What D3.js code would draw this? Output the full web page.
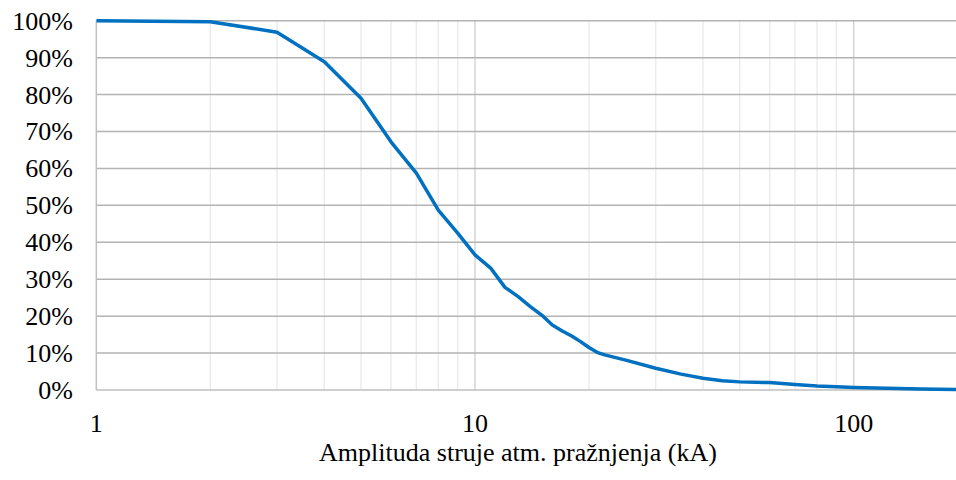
<!DOCTYPE html>
<html>
<head>
<meta charset="utf-8">
<script src="https://cdn.jsdelivr.net/npm/d3@7"></script>
<style>
  body { margin: 0; background: #fff; }
  svg { display: block; font-family: "Liberation Serif", "Times New Roman", serif; }
</style>
</head>
<body>
<div id="chart"></div>
<script>
// lightning current amplitude (kA) vs probability of exceeding
var amplitudes = [1, 2, 3, 4, 5, 6, 7, 8, 9, 10, 11, 12, 13, 14, 15, 16, 17, 18, 19, 20,
                  21, 22, 25, 30, 35, 40, 45, 50, 60, 70, 80, 90, 100, 150, 200];
var probability = [1.000, 0.997, 0.969, 0.889, 0.790, 0.672, 0.587, 0.487, 0.425, 0.366,
                   0.330, 0.278, 0.253, 0.226, 0.203, 0.176, 0.160, 0.146, 0.131, 0.115,
                   0.102, 0.095, 0.081, 0.059, 0.043, 0.032, 0.025, 0.022, 0.020, 0.015,
                   0.011, 0.009, 0.007, 0.003, 0.001];
var yTicks = [0, 0.1, 0.2, 0.3, 0.4, 0.5, 0.6, 0.7, 0.8, 0.9, 1];
var xLabels = [1, 10, 100];
var xTitle = "Amplituda struje atm. pražnjenja (kA)";

var W = 956, H = 480;
var plotLeft = 96.3, plotRight = 956, plotTop = 20.7, plotBottom = 390;
var decade = 378.7;

var svg = d3.select("#chart").append("svg")
  .attr("width", W).attr("height", H);

// log x, the picture is cut off on the right
var x = d3.scaleLog()
  .domain([1, Math.pow(10, (plotRight - plotLeft) / decade)])
  .range([plotLeft, plotRight]);
var y = d3.scaleLinear().domain([0, 1]).range([plotBottom, plotTop]);

// minor vertical grid
var minor = [];
[1, 10, 100].forEach(function (d) {
  for (var k = 2; k <= 9; k++) if (d * k < x.domain()[1]) minor.push(d * k);
});
svg.append("g").selectAll("line").data(minor).enter().append("line")
  .attr("x1", d => x(d)).attr("x2", d => x(d))
  .attr("y1", plotTop).attr("y2", plotBottom)
  .attr("stroke", "#ececec").attr("stroke-width", 1.5);

// major vertical grid
svg.append("g").selectAll("line").data(xLabels.slice(1)).enter().append("line")
  .attr("x1", d => x(d)).attr("x2", d => x(d))
  .attr("y1", plotTop).attr("y2", plotBottom)
  .attr("stroke", "#d4d4d4").attr("stroke-width", 1.5);

// horizontal grid
svg.append("g").selectAll("line").data(yTicks.slice(1)).enter().append("line")
  .attr("x1", plotLeft).attr("x2", plotRight)
  .attr("y1", d => y(d)).attr("y2", d => y(d))
  .attr("stroke", "#b3b3b3").attr("stroke-width", 1.5);

// axis lines
svg.append("line")
  .attr("x1", plotLeft).attr("x2", plotLeft).attr("y1", plotTop).attr("y2", plotBottom)
  .attr("stroke", "#bfbfbf").attr("stroke-width", 1.5);
svg.append("line")
  .attr("x1", plotLeft).attr("x2", plotRight).attr("y1", plotBottom).attr("y2", plotBottom)
  .attr("stroke", "#bfbfbf").attr("stroke-width", 1.5);

// y labels
svg.append("g").selectAll("text").data(yTicks).enter().append("text")
  .attr("x", 73).attr("y", d => y(d) + 9)
  .attr("text-anchor", "end")
  .style("font-size", "26px")
  .text(d => d3.format(".0%")(d));

// x labels
svg.append("g").selectAll("text").data(xLabels).enter().append("text")
  .attr("x", d => x(d)).attr("y", 432)
  .attr("text-anchor", "middle")
  .style("font-size", "26px")
  .text(d => d);

svg.append("text")
  .attr("x", 518).attr("y", 461)
  .attr("text-anchor", "middle")
  .style("font-size", "26px")
  .text(xTitle);

// curve
svg.append("clipPath").attr("id", "clip").append("rect")
  .attr("x", plotLeft).attr("y", 0).attr("width", plotRight - plotLeft).attr("height", plotBottom + 5);

var line = d3.line()
  .x((d, i) => x(amplitudes[i]))
  .y(d => y(d));

svg.append("path")
  .datum(probability)
  .attr("clip-path", "url(#clip)")
  .attr("fill", "none")
  .attr("stroke", "#0070c0")
  .attr("stroke-width", 3.5)
  .attr("stroke-linejoin", "round")
  .attr("d", line);
</script>
</body>
</html>
